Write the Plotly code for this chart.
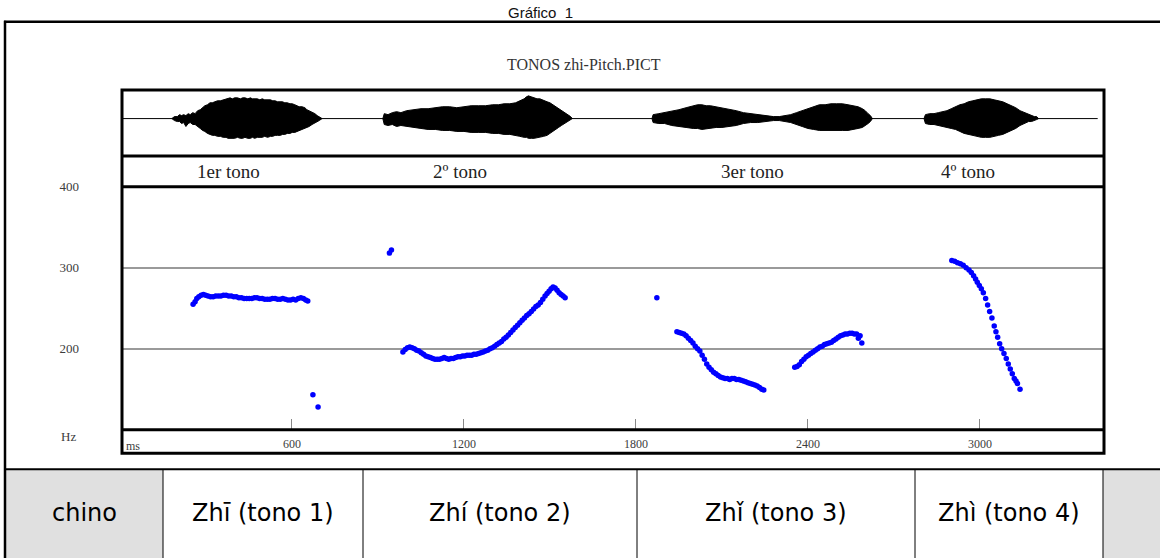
import plotly.graph_objects as go

W, H = 1160, 558

# ---------------- data ----------------
x_ticks = [600, 1200, 1800, 2400, 3000]
y_ticks = [200, 300, 400]
tone_labels = ["1er tono", "2º tono", "3er tono", "4º tono"]
tone_label_ms = [380, 1185, 2205, 2960]
table_cells = ["chino", "Zhī", "Zhí", "Zhǐ", "Zhì"]
table_sub = ["", " (tono 1)", " (tono 2)", " (tono 3)", " (tono 4)"]

# pitch track (ms, Hz)
t1_ms = [255, 262, 268, 275, 283, 291, 299, 307, 316, 325, 334, 343, 352, 361, 370, 379, 388, 397, 406, 415,
         424, 433, 442, 451, 460, 469, 478, 487, 496, 505, 514, 523, 532, 541, 550, 559, 568, 577, 586, 595,
         604, 613, 622, 631, 640, 648, 655]
t1_hz = [255, 258, 262, 264, 266, 267, 266, 265, 264, 264, 265, 265, 265, 266, 266, 265, 265, 264, 264, 263,
         263, 262, 262, 262, 262, 263, 263, 262, 262, 261, 261, 261, 262, 262, 261, 261, 262, 261, 260, 260,
         261, 260, 262, 263, 262, 260, 259]

t2_ms = [987, 995, 1003, 1011, 1019, 1027, 1035, 1043, 1051, 1059, 1067, 1075, 1083, 1091, 1099, 1107, 1115,
         1123, 1131, 1139, 1147, 1155, 1163, 1171, 1179, 1187, 1195, 1203, 1211, 1219, 1227, 1235, 1243, 1251,
         1259, 1267, 1275, 1283, 1291, 1299, 1307, 1315, 1323, 1331, 1339, 1347, 1355, 1363, 1371, 1379, 1387,
         1395, 1403, 1411, 1419, 1427, 1435, 1443, 1451, 1459, 1467, 1475, 1483, 1490, 1497, 1504, 1511, 1518,
         1525, 1532, 1539, 1546, 1553]
t2_hz = [196, 199, 201, 202, 201, 200, 198, 197, 195, 193, 191, 190, 189, 188, 187, 187, 187,
         188, 189, 188, 187, 188, 188, 189, 190, 190, 191, 191, 192, 192, 192, 193, 193, 194,
         195, 196, 197, 198, 200, 201, 203, 205, 207, 209, 212, 214, 217, 220, 223, 226, 229,
         232, 235, 238, 241, 243, 246, 249, 252, 254, 257, 261, 265, 268, 271, 274, 276, 275,
         272, 269, 267, 265, 263]

t3a_ms = [1943, 1951, 1959, 1967, 1975, 1983, 1991, 1999, 2007, 2015, 2023, 2031, 2039, 2047, 2055, 2063,
          2071, 2079, 2087, 2095, 2103, 2111, 2119, 2127, 2135, 2143, 2151, 2159, 2167, 2175, 2183, 2191,
          2199, 2207, 2215, 2223, 2231, 2239, 2246]
t3a_hz = [221, 220, 219, 218, 216, 213, 210, 207, 203, 200, 197, 192, 187, 181, 177, 174,
          171, 169, 167, 165, 164, 163, 163, 162, 163, 163, 162, 162, 161, 160, 159, 158,
          157, 156, 155, 154, 152, 150, 149]

t3b_ms = [2354, 2362, 2370, 2378, 2386, 2394, 2402, 2410, 2418, 2426, 2434, 2442, 2450, 2458, 2466, 2474,
          2482, 2490, 2498, 2506, 2514, 2522, 2530, 2538, 2546, 2554, 2562, 2570, 2576, 2582, 2588]
t3b_hz = [177, 178, 180, 184, 187, 190, 192, 194, 196, 198, 200, 202, 203, 205, 206, 207,
          208, 210, 212, 214, 216, 217, 218, 218, 219, 219, 218, 218, 213, 216, 207]

t4_ms = [2902, 2912, 2922, 2932, 2942, 2952, 2962, 2970, 2978, 2985, 2991, 2998, 3005, 3012, 3020, 3027,
         3034, 3042, 3050, 3056, 3062, 3069, 3076, 3084, 3092, 3099, 3106, 3113, 3120, 3126, 3131, 3140]
t4_hz = [309, 308, 306, 305, 303, 300, 297, 294, 290, 286, 282, 278, 274, 269, 262, 254,
         246, 238, 228, 221, 214, 206, 200, 194, 188, 181, 175, 169, 163, 160, 157, 150]

out_ms = [673, 691, 940, 947, 1873]
out_hz = [143, 128, 318, 322, 263]

# waveform envelopes (ms, upper amplitude, lower amplitude)
w1_ms = [181, 190, 200, 208, 215, 222, 230, 238, 245, 254, 262, 271, 280, 288, 296, 305, 314, 322, 331, 340,
         350, 360, 370, 377, 384, 392, 400, 410, 420, 428, 436, 446, 455, 462, 470, 479, 488, 496, 505, 515,
         525, 533, 541, 550, 560, 567, 575, 584, 593, 601, 610, 617, 625, 635, 645, 652, 660, 670, 680, 688,
         695, 705]
w1_up = [0, 2, 2, 4, 3, 4, 3, 5, 4, 6, 5, 8, 9, 11, 13, 14, 16, 16, 17, 18,
         18, 19, 20, 20, 21, 20, 21, 21, 20, 21, 21, 20, 21, 20, 20, 20, 19, 20, 19, 19,
         19, 18, 18, 17, 17, 17, 16, 16, 15, 15, 14, 13, 12, 12, 11, 9, 8, 6, 5, 3,
         2, 0]
w1_lo = [0, 2, 3, 3, 5, 4, 8, 5, 4, 6, 6, 8, 10, 12, 13, 15, 16, 17, 17, 18,
         18, 19, 19, 20, 20, 20, 20, 19, 20, 20, 19, 20, 20, 19, 20, 19, 19, 19, 18, 19,
         18, 18, 17, 17, 17, 16, 16, 15, 15, 14, 14, 13, 12, 11, 10, 9, 8, 6, 5, 3,
         2, 0]
w2_ms = [917, 922, 935, 950, 965, 980, 1000, 1020, 1050, 1075, 1100, 1125, 1150, 1175, 1200, 1225, 1250,
         1275, 1300, 1320, 1340, 1360, 1380, 1395, 1410, 1418, 1425, 1435, 1445, 1455, 1465, 1478, 1490,
         1500, 1510, 1520, 1530, 1540, 1550, 1558, 1565, 1572, 1578]
w2_up = [0, 5, 4, 6, 7, 6, 8, 9, 10, 10, 11, 12, 12, 11, 12, 13, 13,
         13, 14, 14, 15, 15, 16, 18, 20, 22, 23, 22, 21, 20, 20, 18, 17,
         16, 14, 12, 10, 8, 6, 5, 3, 2, 0]
w2_lo = [0, 6, 7, 6, 8, 7, 8, 9, 10, 11, 11, 12, 12, 13, 13, 14, 14,
         14, 15, 15, 16, 16, 17, 18, 19, 19, 20, 20, 20, 19, 19, 18, 17,
         15, 13, 11, 9, 7, 5, 4, 2, 1, 0]
w3_ms = [1856, 1860, 1880, 1900, 1925, 1950, 1975, 2000, 2015, 2030, 2045, 2060, 2080, 2100, 2125, 2150,
         2175, 2200, 2225, 2250, 2280, 2300, 2320, 2340, 2360, 2380, 2400, 2420, 2440, 2460, 2480, 2500,
         2520, 2540, 2560, 2575, 2590, 2600, 2610, 2618, 2625]
w3_up = [0, 4, 5, 6, 8, 9, 11, 13, 14, 14, 13, 13, 12, 11, 9, 8,
         6, 5, 4, 3, 2, 2, 3, 4, 6, 8, 10, 12, 14, 14, 15, 15,
         15, 14, 13, 12, 10, 8, 5, 3, 0]
w3_lo = [0, 4, 5, 5, 7, 8, 9, 10, 10, 11, 10, 10, 9, 9, 8, 7,
         5, 4, 4, 3, 2, 2, 3, 4, 6, 8, 10, 11, 12, 12, 12, 12,
         12, 12, 11, 10, 9, 7, 5, 3, 0]
w4_ms = [2805, 2810, 2825, 2840, 2855, 2870, 2885, 2900, 2915, 2930, 2945, 2960, 2975, 2990, 3005, 3020,
         3035, 3050, 3065, 3080, 3095, 3110, 3125, 3140, 3155, 3170, 3180, 3190, 3198, 3205]
w4_up = [0, 4, 5, 5, 6, 7, 8, 10, 12, 14, 15, 17, 18, 19, 20, 20,
         20, 19, 18, 17, 15, 13, 11, 8, 6, 4, 3, 2, 2, 0]
w4_lo = [0, 5, 6, 6, 7, 8, 9, 10, 11, 13, 15, 16, 17, 18, 19, 19,
         19, 18, 17, 16, 14, 12, 10, 7, 5, 3, 3, 2, 1, 0]
wave_line_ms = [7, 3411]

# ---------------- layout helpers ----------------
def px(x):
    return x / W

def py(y):
    return 1 - y / H

X_RANGE = [7, 3433]
SERIF = "Liberation Serif, Times New Roman, serif"
SANS = "DejaVu Sans, Verdana, sans-serif"
TICK_COLOR = "#3c3c3c"

fig = go.Figure()

# waveform
for ms, up, lo in [(w1_ms, w1_up, w1_lo), (w2_ms, w2_up, w2_lo), (w3_ms, w3_up, w3_lo), (w4_ms, w4_up, w4_lo)]:
    fig.add_trace(go.Scatter(
        x=ms + ms[::-1], y=up + [-v for v in lo[::-1]],
        fill="toself", fillcolor="black", mode="lines",
        line=dict(color="black", width=1),
        xaxis="x2", yaxis="y2", showlegend=False, hoverinfo="skip"))
fig.add_trace(go.Scatter(x=wave_line_ms, y=[0, 0], mode="lines",
                         line=dict(color="black", width=1),
                         xaxis="x2", yaxis="y2", showlegend=False))

# pitch points
for ms, hz in [(t1_ms, t1_hz), (t2_ms, t2_hz), (t3a_ms, t3a_hz), (t3b_ms, t3b_hz), (t4_ms, t4_hz), (out_ms, out_hz)]:
    fig.add_trace(go.Scatter(x=ms, y=hz, mode="markers",
                             marker=dict(color="#0000ff", size=5.5, line=dict(width=0)),
                             showlegend=False))

fig.update_layout(
    width=W, height=H,
    margin=dict(l=0, r=0, t=0, b=0),
    paper_bgcolor="white", plot_bgcolor="white",
    font=dict(color=TICK_COLOR),
    xaxis=dict(domain=[px(122), px(1104)], range=X_RANGE, tickvals=x_ticks,
               ticks="inside", ticklen=11, tickcolor="#888", tickwidth=1,
               showgrid=False, zeroline=False, showline=False, ticklabelstandoff=5,
               tickfont=dict(family=SERIF, size=12, color=TICK_COLOR), anchor="y"),
    yaxis=dict(domain=[py(428), py(182)], range=[100, 400], tickvals=y_ticks,
               showgrid=True, gridcolor="#9a9a9a", gridwidth=1.5, zeroline=False,
               showline=False, ticks="", ticklabelstandoff=42,
               tickfont=dict(family=SERIF, size=13, color=TICK_COLOR), anchor="x"),
    xaxis2=dict(domain=[px(122), px(1104)], range=X_RANGE, visible=False, anchor="y2"),
    yaxis2=dict(domain=[py(151), py(84)], range=[-38, 29], visible=False, anchor="x2"),
)

shapes = []
def line(x0, y0, x1, y1, w=3, c="black"):
    shapes.append(dict(type="line", xref="paper", yref="paper",
                       x0=px(x0), y0=py(y0), x1=px(x1), y1=py(y1),
                       line=dict(color=c, width=w)))

# table gray cells
for x0, x1 in [(5, 163), (1103, 1160)]:
    shapes.append(dict(type="rect", xref="paper", yref="paper", x0=px(x0), x1=px(x1),
                       y0=py(558), y1=py(468), fillcolor="#e0e0e0", line=dict(width=0), layer="below"))
# outer frame
line(4, 15, 1160, 15, 2.5)
line(5, 14, 5, 558, 2.5)
line(4, 468, 1160, 468, 2)
for x in [163, 363, 637, 915, 1103]:
    line(x, 468, x, 558, 1)
# plot frame
shapes.append(dict(type="rect", xref="paper", yref="paper", x0=px(122), x1=px(1104),
                   y0=py(452), y1=py(84), line=dict(color="black", width=3)))
line(122, 151, 1104, 151, 3)
line(122, 182, 1104, 182, 3)
line(122, 428, 1104, 428, 3)

annotations = [
    dict(text="Gráfico  1", x=px(540), y=py(6), xref="paper", yref="paper", showarrow=False,
         xanchor="center", yanchor="middle", font=dict(family="Liberation Sans, Arial", size=15, color="#111")),
    dict(text="TONOS zhi-Pitch.PICT", x=px(584), y=py(58), xref="paper", yref="paper", showarrow=False,
         xanchor="center", yanchor="middle", font=dict(family=SERIF, size=16, color="#333")),
    dict(text="Hz", x=px(68), y=py(435), xref="paper", yref="paper", showarrow=False,
         xanchor="center", yanchor="middle", font=dict(family=SERIF, size=13, color=TICK_COLOR)),
    dict(text="ms", x=px(124), y=py(445), xref="paper", yref="paper", showarrow=False,
         xanchor="left", yanchor="middle", font=dict(family=SERIF, size=12, color=TICK_COLOR)),
]
for lab, ms in zip(tone_labels, tone_label_ms):
    annotations.append(dict(text=lab, x=ms, y=py(167), xref="x", yref="paper", showarrow=False,
                            xanchor="center", yanchor="middle",
                            font=dict(family=SERIF, size=19, color="#222")))
cell_centers = [84, 263, 500, 776, 1009]
for i, (cx, main, sub) in enumerate(zip(cell_centers, table_cells, table_sub)):
    annotations.append(dict(text=main + sub, x=px(cx), y=py(512), xref="paper", yref="paper", showarrow=False,
                            xanchor="center", yanchor="middle",
                            font=dict(family=SANS, size=24 if i == 0 else 24, color="#000")))

fig.update_layout(shapes=shapes, annotations=annotations)
fig.write_html("out.html", config={"displayModeBar": False},
               post_script="document.body.style.margin='0';document.body.style.overflow='hidden';")
